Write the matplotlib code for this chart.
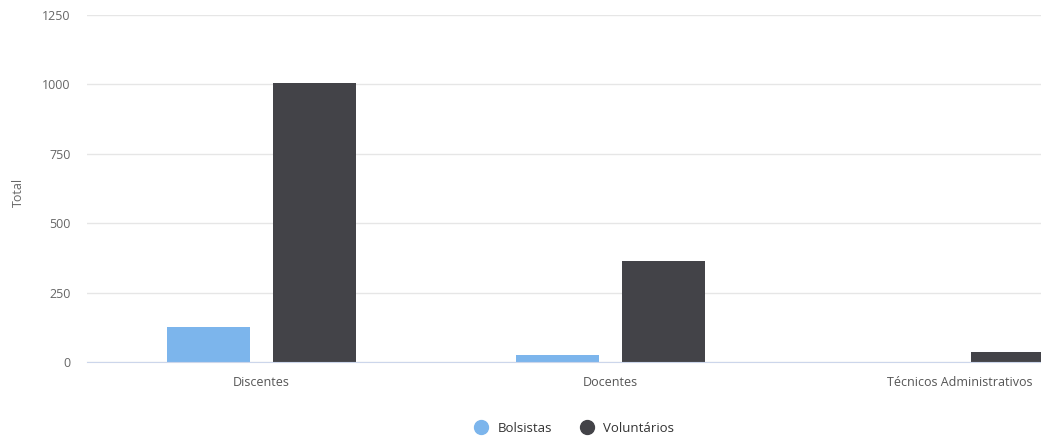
import matplotlib
matplotlib.use("Agg")
import matplotlib.pyplot as plt
import numpy as np
from matplotlib.lines import Line2D

categories = ["Discentes", "Docentes", "Técnicos Administrativos"]
series_names = ["Bolsistas", "Voluntários"]
bolsistas = [126, 27, 0]
voluntarios = [1005, 365, 35]
y_ticks = [0, 250, 500, 750, 1000, 1250]

colors = ["#7cb5ec", "#434348"]
text_color = "#666666"
plt.rcParams['font.family'] = ['Open Sans', 'DejaVu Sans']

W, H = 1041, 436
fig = plt.figure(figsize=(W / 100, H / 100), dpi=100)
left = 87 / W
right_px = 1134
bottom = (H - 362) / H
top = (H - 15) / H
ax = fig.add_axes([left, bottom, (right_px - 87) / W, top - bottom])

x = np.arange(len(categories))
bw = 0.238
off = 0.151
ax.bar(x - off, bolsistas, width=bw, color=colors[0], zorder=3)
ax.bar(x + off, voluntarios, width=bw, color=colors[1], zorder=3)

ax.set_xlim(-0.5, len(categories) - 0.5)
ax.set_ylim(0, 1250)
ax.set_yticks(y_ticks)
ax.set_yticklabels([str(v) for v in y_ticks])
ax.set_xticks(x)
ax.set_xticklabels(categories)
for s in ["top", "right", "left"]:
    ax.spines[s].set_visible(False)
ax.spines["bottom"].set_color("#ccd6eb")
ax.spines["bottom"].set_zorder(4)
ax.grid(axis="y", color="#e6e6e6", linewidth=1, zorder=0)
ax.set_axisbelow(True)
ax.tick_params(axis="y", length=0, pad=12, labelsize=9, labelcolor=text_color)
ax.tick_params(axis="x", length=0, pad=10, labelsize=9, labelcolor="#555555")

fig.text(18 / W, 1 - 192 / H, "Total", rotation=90, ha="center", va="center",
         fontsize=9, color=text_color)

handles = [Line2D([0], [0], marker="o", linestyle="", markersize=10,
                  markerfacecolor=c, markeredgecolor=c) for c in colors]
fig.legend(handles, series_names, loc="center", bbox_to_anchor=(571 / W, 1 - 428 / H),
           ncol=2, frameon=False, fontsize=9.5, handletextpad=0.25, columnspacing=1.6,
           labelcolor="#333333")

fig.savefig("out.png", dpi=100)
